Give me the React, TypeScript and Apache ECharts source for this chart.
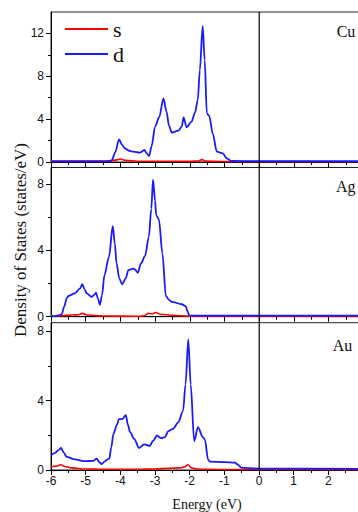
import React, { useEffect, useRef } from "react";
import * as echarts from "echarts";

// ---- Cu ----
const cuEnergyD = [-6.0, -5.0, -4.4, -4.25, -4.15, -4.04, -3.95, -3.87, -3.75, -3.63, -3.44, -3.31, -3.24, -3.17, -3.1, -3.0, -2.88, -2.76, -2.67, -2.6, -2.52, -2.33, -2.23, -2.18, -2.09, -1.95, -1.85, -1.77, -1.71, -1.63, -1.57, -1.51, -1.44, -1.34, -1.22, -1.05, -0.94, -0.8, 0, 3];
const cuD = [0.05, 0.05, 0.06, 0.15, 0.9, 2.1, 1.6, 1.28, 1.05, 0.96, 0.87, 1.12, 0.8, 0.56, 1.5, 3.3, 4.2, 5.94, 4.7, 3.4, 2.74, 2.92, 3.3, 4.17, 3.23, 3.76, 4.6, 5.8, 8.6, 12.7, 9.5, 4.54, 4.3, 2.67, 0.96, 0.81, 0.35, 0.1, 0.08, 0.07];
const cuEnergyS = [-6.0, -4.3, -4.1, -4.0, -3.85, -3.5, -2.0, -1.75, -1.65, -1.55, -1.0, 3];
const cuS = [0.1, 0.1, 0.2, 0.28, 0.15, 0.07, 0.06, 0.1, 0.22, 0.08, 0.04, 0.03];

// ---- Ag ----
const agEnergyD = [-6.0, -5.88, -5.75, -5.69, -5.62, -5.55, -5.5, -5.31, -5.16, -5.1, -5.03, -4.97, -4.83, -4.74, -4.7, -4.65, -4.59, -4.53, -4.46, -4.33, -4.22, -4.16, -4.11, -4.03, -3.95, -3.85, -3.77, -3.63, -3.58, -3.5, -3.41, -3.29, -3.18, -3.11, -3.06, -3.0, -2.97, -2.89, -2.79, -2.69, -2.6, -2.52, -2.23, -2.12, -2.06, -2.02, -1.9, 3];
const agD = [0.02, 0.04, 0.1, 0.16, 0.6, 1.1, 1.25, 1.41, 1.71, 1.97, 1.65, 1.41, 1.2, 1.35, 1.45, 1.1, 0.72, 1.3, 2.51, 3.6, 5.46, 4.4, 3.2, 2.3, 1.95, 2.3, 2.81, 2.9, 2.85, 2.65, 3.2, 3.66, 4.82, 6.5, 8.27, 7.0, 6.13, 5.87, 3.82, 1.25, 1.02, 0.9, 0.75, 0.64, 0.3, 0.08, 0.06, 0.06];
const agEnergyS = [-6.0, -5.7, -5.4, -5.2, -5.1, -4.95, -4.5, -3.5, -3.3, -3.2, -3.1, -2.98, -2.85, -2.5, -2.0, 3];
const agS = [0.02, 0.06, 0.1, 0.12, 0.2, 0.1, 0.04, 0.03, 0.06, 0.2, 0.18, 0.25, 0.15, 0.08, 0.03, 0.02];

// ---- Au ----
const auEnergyD = [-6.0, -5.88, -5.78, -5.71, -5.63, -5.55, -5.31, -5.02, -4.78, -4.68, -4.61, -4.54, -4.45, -4.32, -4.26, -4.2, -4.1, -4.04, -3.95, -3.84, -3.78, -3.72, -3.6, -3.46, -3.31, -3.15, -3.05, -2.94, -2.83, -2.71, -2.62, -2.48, -2.33, -2.19, -2.12, -2.04, -1.97, -1.87, -1.76, -1.62, -1.56, -1.47, -1.42, -1.0, -0.7, -0.6, -0.52, -0.3, 0, 3];
const auD = [0.85, 0.99, 1.15, 1.27, 1.0, 0.76, 0.61, 0.51, 0.53, 0.66, 0.45, 0.34, 0.5, 0.66, 1.3, 2.08, 2.6, 2.94, 2.94, 3.16, 2.6, 2.18, 1.8, 1.27, 1.48, 1.39, 1.7, 1.99, 1.84, 1.9, 2.24, 2.37, 2.75, 3.41, 4.93, 7.54, 4.93, 1.67, 2.47, 1.9, 1.75, 0.6, 0.48, 0.45, 0.42, 0.3, 0.14, 0.1, 0.08, 0.06];
const auEnergyS = [-6.0, -5.85, -5.72, -5.6, -5.4, -5.0, -4.5, -3.5, -3.0, -2.6, -2.3, -2.15, -2.05, -1.95, -1.8, -1.0, 3];
const auS = [0.2, 0.22, 0.3, 0.2, 0.12, 0.06, 0.04, 0.04, 0.06, 0.1, 0.12, 0.18, 0.3, 0.12, 0.06, 0.03, 0.02];

const panelNames = ["Cu", "Ag", "Au"];
const yMaxes = [14, 9, 8.5];
const yMajorTicks = [[0, 4, 8, 12], [0, 4, 8], [0, 4, 8]];
const yMinorTicks = [[2, 6, 10], [2, 6], [2, 6]];
const xMin = -6;
const xMax = 3;

const panels = [
  { eD: cuEnergyD, d: cuD, eS: cuEnergyS, s: cuS },
  { eD: agEnergyD, d: agD, eS: agEnergyS, s: agS },
  { eD: auEnergyD, d: auD, eS: auEnergyS, s: auS },
];

const SERIF = "'Liberation Serif', 'Times New Roman', serif";
const SANS = "'Liberation Sans', Arial, sans-serif";
const BLUE = "#1a1aff";
const RED = "#ff0000";

export default function App() {
  const ref = useRef<HTMLDivElement>(null);
  useEffect(() => {
    const chart = echarts.init(ref.current!, null, { renderer: "svg" });
    const gridBoxes = [
      { top: 12, height: 150 },
      { top: 167.5, height: 149.2 },
      { top: 322.7, height: 149 },
    ];
    const grid = gridBoxes.map((g) => ({
      left: 51,
      width: 312.3,
      top: g.top,
      height: g.height,
      show: true,
      borderColor: "#222",
      borderWidth: 1,
      backgroundColor: "transparent",
    }));
    const xAxis = [0, 1, 2].map((i) => ({
      type: "value",
      gridIndex: i,
      min: xMin,
      max: xMax,
      interval: 1,
      axisLine: { show: true, onZero: false, lineStyle: { color: "#000", width: 1 } },
      axisTick: { show: true, length: 5, lineStyle: { color: "#000", width: 1 } },
      minorTick: { show: true, splitNumber: 2, length: 3, lineStyle: { color: "#000", width: 1 } },
      splitLine: { show: false },
      axisLabel: {
        show: i === 2,
        margin: 5,
        fontFamily: SANS,
        fontSize: 12,
        color: "#111",
        formatter: (v: number) => (v >= xMax ? "" : String(v)),
      },
      name: i === 2 ? "Energy (eV)" : "",
      nameLocation: "middle",
      nameGap: 27,
      nameTextStyle: { fontFamily: SERIF, fontSize: 14, color: "#111" },
    }));
    const yAxis: any[] = [];
    [0, 1, 2].forEach((i) => {
      yAxis.push({
        type: "value",
        gridIndex: i,
        min: 0,
        max: yMaxes[i],
        position: "left",
        axisLine: { show: true, onZero: false, lineStyle: { color: "#000", width: 1 } },
        axisTick: { show: true, length: 5, customValues: yMajorTicks[i], lineStyle: { color: "#000" } },
        axisLabel: { show: true, customValues: yMajorTicks[i], margin: 7, fontFamily: SANS, fontSize: 12, color: "#111" },
        splitLine: { show: false },
      });
    });
    [0, 1, 2].forEach((i) => {
      yAxis.push({
        type: "value",
        gridIndex: i,
        min: 0,
        max: yMaxes[i],
        position: "left",
        offset: 0,
        axisLine: { show: false, onZero: false },
        axisTick: { show: true, length: 3, customValues: yMinorTicks[i], lineStyle: { color: "#000" } },
        axisLabel: { show: false },
        splitLine: { show: false },
      });
    });
    const series: any[] = [];
    panels.forEach((p, i) => {
      series.push({
        name: "d",
        type: "line",
        xAxisIndex: i,
        yAxisIndex: i,
        data: p.eD.map((e, k) => [e, p.d[k]]),
        symbol: "none",
        smooth: 0.3,
        smoothMonotone: "x",
        lineStyle: { color: BLUE, width: 1.8 },
        itemStyle: { color: BLUE },
      });
      series.push({
        name: "s",
        type: "line",
        xAxisIndex: i,
        yAxisIndex: i,
        data: p.eS.map((e, k) => [e, p.s[k]]),
        symbol: "none",
        smooth: 0.3,
        smoothMonotone: "x",
        lineStyle: { color: RED, width: 1.6 },
        itemStyle: { color: RED },
        z: 1,
      });
    });
    const labelPos = [
      { x: 336.7, y: 31 },
      { x: 336, y: 186 },
      { x: 332.7, y: 345 },
    ];
    const graphic: any[] = panelNames.map((n, i) => ({
      id: "lbl" + i,
      type: "text",
      x: labelPos[i].x,
      y: labelPos[i].y,
      style: { text: n, fontFamily: SERIF, fontSize: 16, fill: "#111", textAlign: "left", textVerticalAlign: "middle" },
    }));
    graphic.push({
      id: "ytitle",
      type: "text",
      x: 20,
      y: 240,
      rotation: Math.PI / 2,
      style: {
        text: "Density of States (states/eV)",
        fontFamily: SERIF,
        fontSize: 17,
        fill: "#111",
        textAlign: "center",
        textVerticalAlign: "middle",
      },
    });
    chart.setOption({
      animation: false,
      grid,
      xAxis,
      yAxis,
      series,
      graphic,
      legend: {
        data: [
          { name: "s", icon: "rect" },
          { name: "d", icon: "rect" },
        ],
        orient: "vertical",
        left: 60,
        top: 13,
        itemWidth: 43,
        itemHeight: 2,
        itemGap: 3,
        selectedMode: false,
        textStyle: { fontFamily: SERIF, fontSize: 22, color: "#111" },
      },
    });
    const x0 = chart.convertToPixel({ xAxisIndex: 0 }, 0) as number;
    const yTop = chart.convertToPixel({ yAxisIndex: 0 }, yMaxes[0]) as number;
    const yBot = chart.convertToPixel({ yAxisIndex: 2 }, 0) as number;
    chart.setOption({
      graphic: [
        {
          id: "fermi",
          type: "line",
          shape: { x1: x0, y1: yTop, x2: x0, y2: yBot },
          style: { stroke: "#000", lineWidth: 1.2 },
          z: 10,
        },
      ],
    });
    return () => chart.dispose();
  }, []);
  return (
    <div
      ref={ref}
      style={{ position: "fixed", left: 0, top: 0, width: 366, height: 512, background: "#fff" }}
    />
  );
}
